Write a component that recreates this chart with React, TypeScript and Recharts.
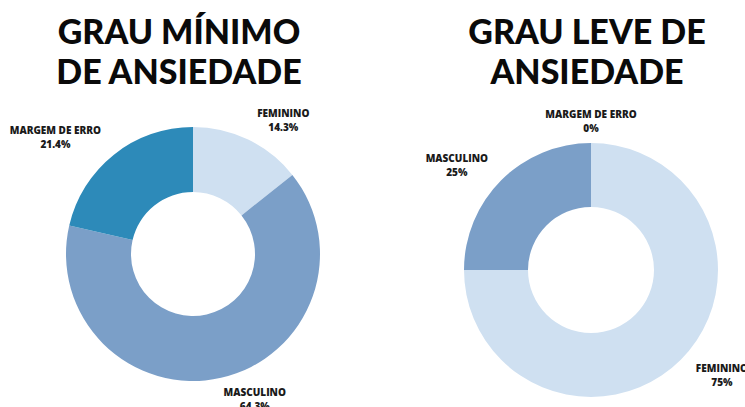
import React from "react";
import { PieChart, Pie, Cell } from "recharts";

const leftCategories = ["FEMININO", "MASCULINO", "MARGEM DE ERRO"];
const leftValues = [14.3, 64.3, 21.4];
const leftColors = ["#cfe0f1", "#7b9fc8", "#2d8ab9"];

const rightCategories = ["FEMININO", "MASCULINO", "MARGEM DE ERRO"];
const rightValues = [75, 25, 0];
const rightColors = ["#cfe0f1", "#7b9fc8", "#2d8ab9"];

const leftTitle = ["GRAU MÍNIMO", "DE ANSIEDADE"];
const rightTitle = ["GRAU LEVE DE", "ANSIEDADE"];

const leftData = leftCategories.map((name, i) => ({ name, value: leftValues[i] }));
const rightData = rightCategories.map((name, i) => ({ name, value: rightValues[i] }));

const RAD = Math.PI / 180;
const CHAR_W = 6.4;

const renderLabel = (props: any) => {
  const { cx, cy, midAngle, outerRadius, name, value } = props;
  const r = outerRadius + 22;
  const c = Math.cos(-midAngle * RAD);
  const s = Math.sin(-midAngle * RAD);
  const x = cx + r * c;
  const y = cy + r * s;
  const line2 = `${value}%`;
  const w = Math.max(String(name).length, line2.length) * CHAR_W;
  let center = x;
  if (c > 0.1) center = x + w / 2;
  else if (c < -0.1) center = x - w / 2;
  return (
    <text
      x={center}
      y={y}
      textAnchor="middle"
      fontFamily="'Open Sans', sans-serif"
      fontWeight={800}
      fontSize={10}
      fill="#1a1a1a"
    >
      <tspan x={center} dy={-3}>{name}</tspan>
      <tspan x={center} dy={14}>{line2}</tspan>
    </text>
  );
};

const titleStyle: React.CSSProperties = {
  position: "absolute",
  textAlign: "center",
  fontFamily: "Lato, 'DejaVu Sans', sans-serif",
  fontWeight: 900,
  fontSize: 34,
  lineHeight: "40px",
  color: "#0a0a0a",
  whiteSpace: "nowrap",
};

export default function App() {
  return (
    <div style={{ position: "absolute", left: 0, top: 0, width: 745, height: 407, background: "#fff", overflow: "hidden" }}>
      <PieChart width={745} height={407} margin={{ top: 0, right: 0, bottom: 0, left: 0 }}>
        <Pie
          data={leftData}
          dataKey="value"
          nameKey="name"
          cx={193}
          cy={254}
          innerRadius={62}
          outerRadius={127}
          startAngle={90}
          endAngle={-270}
          stroke="none"
          label={renderLabel}
          labelLine={false}
          isAnimationActive={false}
        >
          {leftData.map((d, i) => (
            <Cell key={d.name} fill={leftColors[i]} />
          ))}
        </Pie>
        <Pie
          data={rightData}
          dataKey="value"
          nameKey="name"
          cx={591}
          cy={270}
          innerRadius={63}
          outerRadius={127}
          startAngle={90}
          endAngle={-270}
          stroke="none"
          label={renderLabel}
          labelLine={false}
          isAnimationActive={false}
        >
          {rightData.map((d, i) => (
            <Cell key={d.name} fill={rightColors[i]} />
          ))}
        </Pie>
      </PieChart>
      <div style={{ ...titleStyle, left: 29, width: 300, top: 11 }}>
        {leftTitle.map((t) => (
          <div key={t}>{t}</div>
        ))}
      </div>
      <div style={{ ...titleStyle, left: 437, width: 300, top: 11 }}>
        {rightTitle.map((t) => (
          <div key={t}>{t}</div>
        ))}
      </div>
    </div>
  );
}
